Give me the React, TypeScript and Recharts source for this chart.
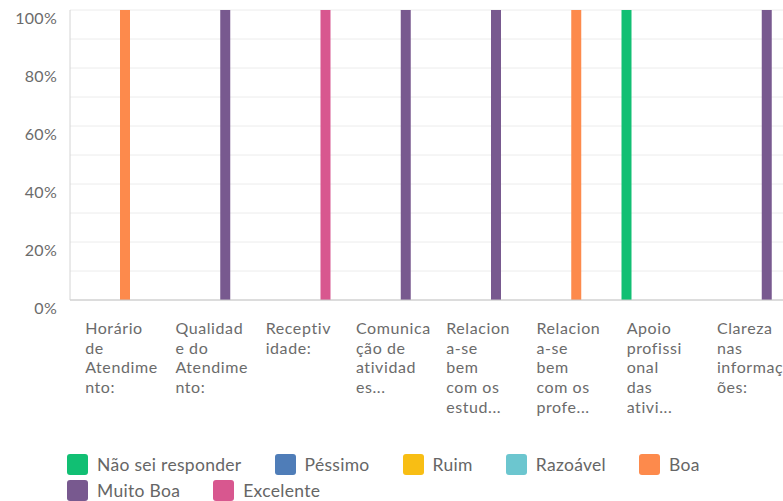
import { BarChart, Bar, XAxis, YAxis, CartesianGrid } from "recharts";

// categories (full names) and how the axis breaks them into lines
const categories = [
  "Horário de Atendimento:",
  "Qualidade do Atendimento:",
  "Receptividade:",
  "Comunicação de atividades...",
  "Relaciona-se bem com os estud...",
  "Relaciona-se bem com os profe...",
  "Apoio profissional das ativi...",
  "Clareza nas informações:",
];

const categoryLines = [
  ["Horário", "de", "Atendime", "nto:"],
  ["Qualidad", "e do", "Atendime", "nto:"],
  ["Receptiv", "idade:"],
  ["Comunica", "ção de", "atividad", "es..."],
  ["Relacion", "a-se", "bem", "com os", "estud..."],
  ["Relacion", "a-se", "bem", "com os", "profe..."],
  ["Apoio", "profissi", "onal", "das", "ativi..."],
  ["Clareza", "nas", "informaç", "ões:"],
];

const seriesNames = [
  "Não sei responder",
  "Péssimo",
  "Ruim",
  "Razoável",
  "Boa",
  "Muito Boa",
  "Excelente",
];
const seriesColors = [
  "#11bf73",
  "#4f7db8",
  "#f8be14",
  "#6cc6cf",
  "#fd8a4c",
  "#78598f",
  "#d8578f",
];

// percentages per series, one value per category
const naoSei = [0, 0, 0, 0, 0, 0, 100, 0];
const pessimo = [0, 0, 0, 0, 0, 0, 0, 0];
const ruim = [0, 0, 0, 0, 0, 0, 0, 0];
const razoavel = [0, 0, 0, 0, 0, 0, 0, 0];
const boa = [100, 0, 0, 0, 0, 100, 0, 0];
const muitoBoa = [0, 100, 0, 100, 100, 0, 0, 100];
const excelente = [0, 0, 100, 0, 0, 0, 0, 0];

const yTicks = [0, 10, 20, 30, 40, 50, 60, 70, 80, 90, 100];

const seriesValues = [naoSei, pessimo, ruim, razoavel, boa, muitoBoa, excelente];

const data = categories.map((name, i) => {
  const row: Record<string, any> = { name };
  seriesValues.forEach((vals, s) => {
    row["s" + s] = vals[i];
  });
  return row;
});

const FONT = "Lato, 'Noto Sans', sans-serif";

const YTick = (props: any) => {
  const { x, y, payload } = props;
  if (payload.value % 20 !== 0) return <g />;
  return (
    <text
      x={x - 5}
      y={y + 14}
      textAnchor="end"
      fill="#6b6b6b"
      fontSize={16}
      letterSpacing={0.3}
      fontFamily={FONT}
    >
      {payload.value}%
    </text>
  );
};

const XTick = (props: any) => {
  const { x, y, index } = props;
  const lines = categoryLines[index] || [];
  return (
    <g>
      {lines.map((l, k) => (
        <text
          key={k}
          x={x - 30}
          y={y + 26 + k * 19.7}
          fill="#6b6b6b"
          fontSize={16}
          letterSpacing={0.6}
          fontFamily={FONT}
        >
          {l}
        </text>
      ))}
    </g>
  );
};

export default function App() {
  return (
    <div
      style={{
        position: "absolute",
        left: 0,
        top: 0,
        width: 783,
        height: 501,
        overflow: "hidden",
        background: "#fff",
      }}
    >
      <BarChart
        width={801}
        height={420}
        data={data}
        margin={{ top: 10, right: 9, left: 0, bottom: 0 }}
        barGap={0}
        barSize={10}
      >
        <CartesianGrid vertical={false} stroke="#ececec" />
        <XAxis
          dataKey="name"
          height={120}
          tickLine={false}
          axisLine={{ stroke: "#c4c4c4" }}
          tick={<XTick />}
          interval={0}
        />
        <YAxis
          width={70}
          domain={[0, 100]}
          ticks={yTicks}
          tickLine={false}
          axisLine={{ stroke: "#d4d4d4" }}
          tick={<YTick />}
        />
        {seriesNames.map((n, s) => (
          <Bar
            key={n}
            dataKey={"s" + s}
            name={n}
            fill={seriesColors[s]}
            isAnimationActive={false}
          />
        ))}
      </BarChart>
      <div
        style={{
          position: "absolute",
          left: 67,
          top: 454,
          width: 690,
          display: "flex",
          flexWrap: "wrap",
          rowGap: 5,
          fontFamily: FONT,
          fontSize: 17.5,
          letterSpacing: 0.3,
          color: "#666",
        }}
      >
        {seriesNames.map((n, s) => (
          <div
            key={n}
            style={{
              display: "flex",
              alignItems: "center",
              height: 21,
              marginRight: 33,
            }}
          >
            <span
              style={{
                width: 21,
                height: 21,
                borderRadius: 3,
                background: seriesColors[s],
                marginRight: 9,
                display: "inline-block",
              }}
            />
            <span style={{ lineHeight: "18px" }}>{n}</span>
          </div>
        ))}
      </div>
    </div>
  );
}
